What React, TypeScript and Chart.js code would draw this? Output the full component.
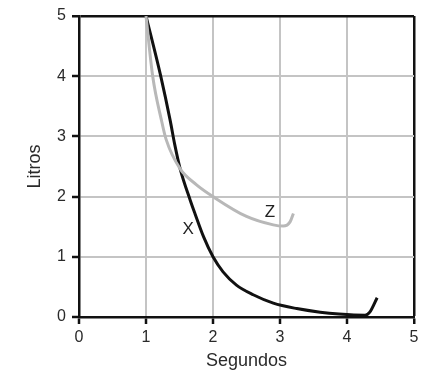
import React, { useEffect, useRef } from "react";
import { Chart, registerables } from "chart.js";

Chart.register(...registerables);

const xTicks = [0, 1, 2, 3, 4, 5];
const yTicks = [0, 1, 2, 3, 4, 5];

const seriesXName = "X";
const seriesXx = [1, 1.22, 1.36, 1.43, 1.51, 1.66, 1.73, 1.86, 2.0, 2.15, 2.35, 2.6, 2.9, 3.25, 3.6, 3.88, 4.27, 4.34, 4.45];
const seriesXy = [5, 4, 3.27, 2.86, 2.46, 1.94, 1.72, 1.33, 1.0, 0.75, 0.53, 0.37, 0.23, 0.14, 0.08, 0.05, 0.03, 0.08, 0.32];

const seriesZName = "Z";
const seriesZx = [1, 1.1, 1.23, 1.3, 1.51, 1.75, 2.0, 2.5, 2.9, 3.05, 3.15, 3.2];
const seriesZy = [5, 4, 3.27, 2.95, 2.46, 2.2, 2.0, 1.67, 1.53, 1.51, 1.58, 1.72];

// label anchor points in data units
const labelXPos = { x: 1.63, y: 1.45 };
const labelZPos = { x: 2.85, y: 1.74 };

const xTitle = "Segundos";
const yTitle = "Litros";

const FONT = "'Liberation Sans', Arial, Helvetica, sans-serif";

const labelPlugin = {
  id: "curveLabels",
  afterDatasetsDraw(chart: any) {
    const { ctx, scales } = chart;
    const items = [
      { t: seriesXName, p: labelXPos },
      { t: seriesZName, p: labelZPos },
    ];
    ctx.save();
    ctx.font = `17px ${FONT}`;
    ctx.fillStyle = "#222";
    ctx.textAlign = "center";
    ctx.textBaseline = "middle";
    for (const it of items) {
      ctx.fillText(it.t, scales.x.getPixelForValue(it.p.x), scales.y.getPixelForValue(it.p.y));
    }
    ctx.restore();
  },
};

export default function App() {
  const ref = useRef<HTMLCanvasElement | null>(null);
  useEffect(() => {
    if (!ref.current) return;
    const toPts = (xs: number[], ys: number[]) => xs.map((x, i) => ({ x, y: ys[i] }));
    const gridColor = (c: any) => (c.tick && c.tick.value === 5 ? "#111" : "#c4c4c4");
    const gridWidth = (c: any) => (c.tick && c.tick.value === 5 ? 2.5 : 2);
    const chart = new Chart(ref.current, {
      type: "scatter",
      data: {
        datasets: [
          {
            label: seriesZName,
            data: toPts(seriesZx, seriesZy),
            showLine: true,
            borderColor: "#b8b8b8",
            borderWidth: 3,
            pointRadius: 0,
            cubicInterpolationMode: "monotone",
          },
          {
            label: seriesXName,
            data: toPts(seriesXx, seriesXy),
            showLine: true,
            borderColor: "#111",
            borderWidth: 3,
            pointRadius: 0,
            cubicInterpolationMode: "monotone",
          },
        ],
      },
      options: {
        animation: false,
        responsive: false,
        maintainAspectRatio: false,
        layout: { padding: { left: 0, top: 16, right: 30, bottom: 0 } },
        plugins: { legend: { display: false }, tooltip: { enabled: false } },
        scales: {
          x: {
            type: "linear",
            min: xTicks[0],
            max: xTicks[xTicks.length - 1],
            afterFit: (s: any) => {
              s.height = 63;
            },
            afterBuildTicks: (s: any) => {
              s.ticks = xTicks.map((v) => ({ value: v }));
            },
            ticks: {
              color: "#2a2a2a",
              font: { family: FONT, size: 16 },
              padding: 4,
            },
            grid: { color: gridColor, lineWidth: gridWidth, tickColor: "#111", tickLength: 7, tickWidth: 2.5 },
            border: { color: "#111", width: 2.5 },
            title: {
              display: true,
              text: xTitle,
              color: "#2a2a2a",
              font: { family: FONT, size: 18 },
              padding: { top: 0, bottom: 8 },
            },
          },
          y: {
            type: "linear",
            min: yTicks[0],
            max: yTicks[yTicks.length - 1],
            afterFit: (s: any) => {
              s.width = 79;
            },
            afterBuildTicks: (s: any) => {
              s.ticks = yTicks.map((v) => ({ value: v }));
            },
            ticks: {
              color: "#2a2a2a",
              font: { family: FONT, size: 16 },
              padding: 6,
            },
            grid: { color: gridColor, lineWidth: gridWidth, tickColor: "#111", tickLength: 7, tickWidth: 2.5 },
            border: { color: "#111", width: 2.5 },
            title: {
              display: true,
              text: yTitle,
              color: "#2a2a2a",
              font: { family: FONT, size: 18 },
              padding: { top: 24, bottom: 0 },
            },
          },
        },
      },
      plugins: [labelPlugin],
    } as any);
    return () => chart.destroy();
  }, []);
  return (
    <div style={{ position: "absolute", left: 0, top: 0, width: 444, height: 380, background: "#fff" }}>
      <canvas ref={ref} width={444} height={380} style={{ display: "block", width: 444, height: 380 }} />
    </div>
  );
}
